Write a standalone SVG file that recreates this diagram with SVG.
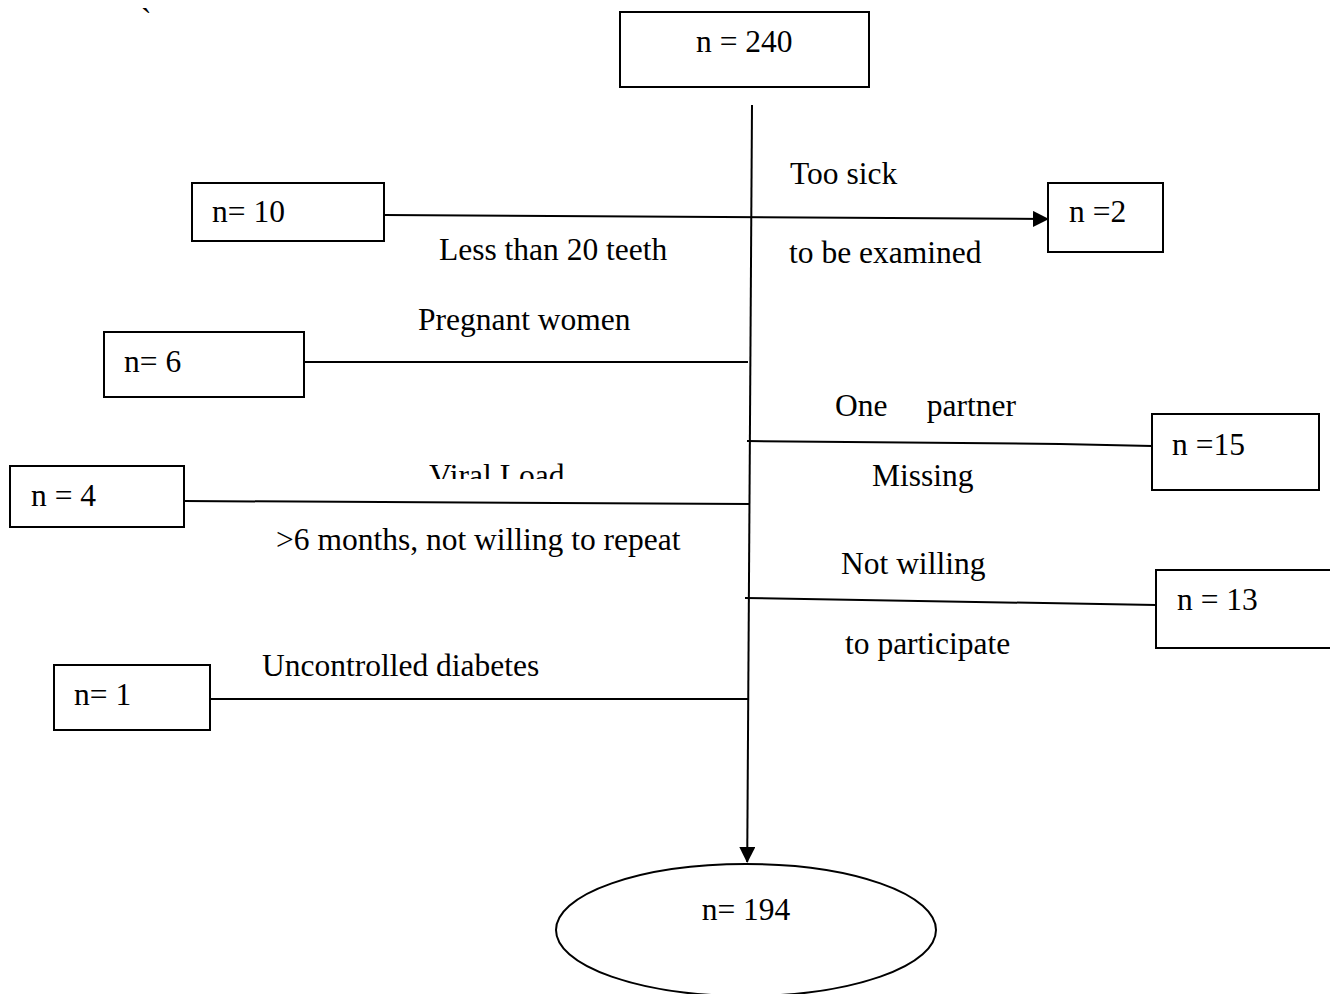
<svg xmlns="http://www.w3.org/2000/svg" width="1330" height="994" viewBox="0 0 1330 994">
<style>
.b{fill:#fff;stroke:#000;stroke-width:2}
.t{font-family:"Liberation Serif","Times New Roman",serif;font-size:31.5px;fill:#000}
.c{fill:none;stroke:#000;stroke-width:2}
</style>
<defs>
<marker id="ah2" markerWidth="16" markerHeight="16" refX="15" refY="8" orient="auto" markerUnits="userSpaceOnUse" viewBox="0 0 16 16">
<path d="M0,0 L16,8 L0,16 z" fill="#000"/>
</marker>
<clipPath id="vl"><rect x="0" y="0" width="1330" height="479"/></clipPath>
</defs>
<rect width="1330" height="994" fill="#fff"/>
<text class="t" x="141" y="30">`</text>
<g id="connectors">
<line class="c" x1="752" y1="105" x2="747.2" y2="862" marker-end="url(#ah2)"/>
<line class="c" x1="384" y1="215" x2="1048" y2="219" marker-end="url(#ah2)"/>
<line class="c" x1="304" y1="362" x2="748" y2="362"/>
<polyline class="c" points="747,441 1060,444 1152,446"/>
<line class="c" x1="184" y1="501" x2="750" y2="504"/>
<line class="c" x1="745" y1="598" x2="1156" y2="605"/>
<line class="c" x1="210" y1="699" x2="748" y2="699"/>
</g>
<g id="n240"><rect class="b" x="620" y="12" width="249" height="75"/><text class="t" x="696" y="52">n = 240</text></g>
<g id="n10"><rect class="b" x="192" y="183" width="192" height="58"/><text class="t" x="212" y="222">n= 10</text></g>
<g id="n2"><rect class="b" x="1048" y="183" width="115" height="69"/><text class="t" x="1069" y="222">n =2</text></g>
<g id="n6"><rect class="b" x="104" y="332" width="200" height="65"/><text class="t" x="124" y="372">n= 6</text></g>
<g id="n15"><rect class="b" x="1152" y="414" width="167" height="76"/><text class="t" x="1172" y="455">n =15</text></g>
<g id="n4"><rect class="b" x="10" y="466" width="174" height="61"/><text class="t" x="31" y="506">n = 4</text></g>
<g id="n13"><rect class="b" x="1156" y="570" width="190" height="78"/><text class="t" x="1177" y="610">n = 13</text></g>
<g id="n1"><rect class="b" x="54" y="665" width="156" height="65"/><text class="t" x="74" y="705">n= 1</text></g>
<g id="n194"><ellipse class="b" cx="746" cy="930" rx="190" ry="66"/><text class="t" x="746" y="920" text-anchor="middle">n= 194</text></g>
<g id="labels">
<text class="t" x="790" y="184">Too sick</text>
<text class="t" x="789" y="263">to be examined</text>
<text class="t" x="439" y="260">Less than 20 teeth</text>
<text class="t" x="418" y="330">Pregnant women</text>
<text class="t" x="835" y="416" xml:space="preserve">One     partner</text>
<text class="t" x="872" y="486">Missing</text>
<text class="t" x="429" y="486" clip-path="url(#vl)">Viral Load</text>
<text class="t" x="276" y="550">&gt;6 months, not willing to repeat</text>
<text class="t" x="841" y="574">Not willing</text>
<text class="t" x="845" y="654">to participate</text>
<text class="t" x="262" y="676">Uncontrolled diabetes</text>
</g>
</svg>
